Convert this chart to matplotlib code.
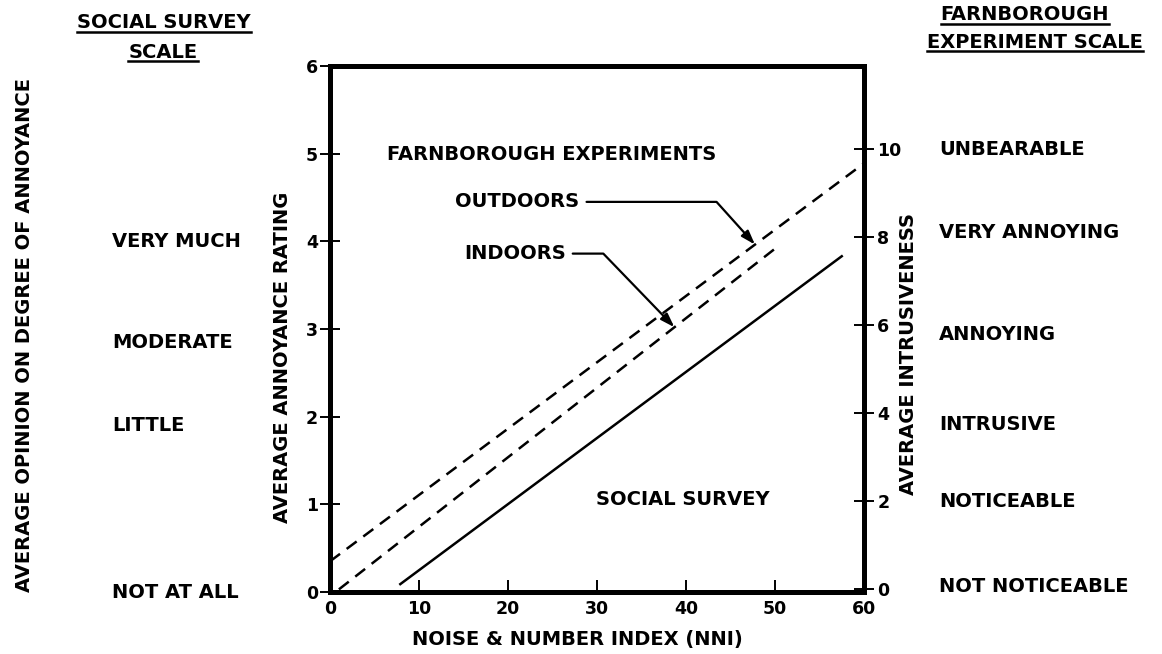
import numpy as np
import matplotlib
matplotlib.use("Agg")
import matplotlib.pyplot as plt
from matplotlib.lines import Line2D

plt.rcParams['font.family'] = ['DejaVu Sans']
plt.rcParams['font.weight'] = 'bold'

# fitted lines: noise & number index vs average annoyance rating (end points)
outdoors_nni = [0.0, 60.0]
outdoors_rating = [0.35, 4.89]
indoors_nni = [1.0, 50.3]
indoors_rating = [0.03, 3.94]
survey_nni = [7.9, 57.5]
survey_rating = [0.09, 3.83]

x_ticks = [0, 10, 20, 30, 40, 50, 60]
left_ticks = [0, 1, 2, 3, 4, 5, 6]
right_ticks = [0, 2, 4, 6, 8, 10]

# verbal scales on either side
survey_words = ['VERY MUCH', 'MODERATE', 'LITTLE', 'NOT AT ALL']
survey_levels = [4.0, 2.85, 1.9, 0.0]
farnborough_words = ['UNBEARABLE', 'VERY ANNOYING', 'ANNOYING',
                     'INTRUSIVE', 'NOTICEABLE', 'NOT NOTICEABLE']
farnborough_levels = [10.0, 8.1, 5.8, 3.75, 2.0, 0.05]

FS = 14
W, H = 1162, 654

fig = plt.figure(figsize=(W / 100, H / 100), dpi=100)
ax = fig.add_axes([330 / W, 1 - 592 / H, 534 / W, 526 / H])
ax.set_xlim(0, 60)
ax.set_ylim(0, 6)

dash = (5, 3.3)
ax.plot(outdoors_nni, outdoors_rating, color='black', lw=1.8, dashes=dash)
ax.plot(indoors_nni, indoors_rating, color='black', lw=1.8, dashes=dash)
ax.plot(survey_nni, survey_rating, color='black', lw=1.8)

ax.set_xticks(x_ticks)
ax.set_yticks(left_ticks)
ax.tick_params(axis='y', direction='inout', length=15, width=1.4, pad=1,
               labelsize=12.5)
ax.tick_params(axis='x', direction='in', length=9, width=1.4, pad=6,
               labelsize=12.5)
for lab in ax.get_xticklabels():
    lab.set_x(lab.get_position()[0])

ax2 = ax.twinx()
ax2.set_ylim(-0.07, 11.9)
ax2.set_yticks(right_ticks)
ax2.tick_params(axis='y', direction='inout', length=15, width=1.4, pad=2,
                labelsize=12.5)

for a in (ax, ax2):
    for sp in a.spines.values():
        sp.set_linewidth(3.6)

# text inside the frame
ax.text(6.35, 4.99, 'FARNBOROUGH EXPERIMENTS', fontsize=FS, va='center')
ax.text(29.9, 1.055, 'SOCIAL SURVEY', fontsize=FS, va='center')

arrow = dict(arrowstyle='-|>,head_length=0.6,head_width=0.2', color='black',
             lw=1.6, shrinkA=3, shrinkB=0)
tip = 47.75
ax.annotate('OUTDOORS', xy=(tip, np.interp(tip, outdoors_nni, outdoors_rating)),
            xytext=(14.1, 4.45), fontsize=FS, ha='left', va='center',
            arrowprops=dict(arrow, connectionstyle='angle,angleA=0,angleB=132,rad=0'))
tip = 38.7
ax.annotate('INDOORS', xy=(tip, np.interp(tip, indoors_nni, indoors_rating)),
            xytext=(15.06, 3.86), fontsize=FS, ha='left', va='center',
            arrowprops=dict(arrow, connectionstyle='angle,angleA=0,angleB=134,rad=0'))

# verbal scale labels
for word, lev in zip(survey_words, survey_levels):
    ax.text(-0.408, lev, word, transform=ax.get_yaxis_transform(),
            fontsize=FS, ha='left', va='center')
for word, lev in zip(farnborough_words, farnborough_levels):
    ax2.text(1.1404, lev, word, transform=ax2.get_yaxis_transform(),
             fontsize=FS, ha='left', va='center')

# axis titles
fig.text(577 / W, 1 - 640 / H, 'NOISE & NUMBER INDEX (NNI)', fontsize=FS,
         ha='center', va='center')
fig.text(282 / W, 1 - 357 / H, 'AVERAGE ANNOYANCE RATING', fontsize=FS,
         rotation=90, ha='center', va='center')
fig.text(25 / W, 1 - 335 / H, 'AVERAGE OPINION ON DEGREE OF ANNOYANCE',
         fontsize=FS, rotation=90, ha='center', va='center')
fig.text(909 / W, 1 - 354 / H, 'AVERAGE INTRUSIVENESS', fontsize=FS,
         rotation=90, ha='center', va='center')

# underlined scale headings
headings = [
    fig.text(164 / W, 1 - 23 / H, 'SOCIAL SURVEY', fontsize=FS, ha='center', va='center'),
    fig.text(163 / W, 1 - 52 / H, 'SCALE', fontsize=FS, ha='center', va='center'),
    fig.text(1025 / W, 1 - 15 / H, 'FARNBOROUGH', fontsize=FS, ha='center', va='center'),
    fig.text(1035 / W, 1 - 42 / H, 'EXPERIMENT SCALE', fontsize=FS, ha='center', va='center'),
]
fig.canvas.draw()
renderer = fig.canvas.get_renderer()
for t in headings:
    bb = t.get_window_extent(renderer)
    y = (bb.y0 + 1) / H
    fig.add_artist(Line2D([bb.x0 / W, bb.x1 / W], [y, y], color='black',
                          lw=1.8, transform=fig.transFigure))

fig.savefig('out.png', dpi=100)
